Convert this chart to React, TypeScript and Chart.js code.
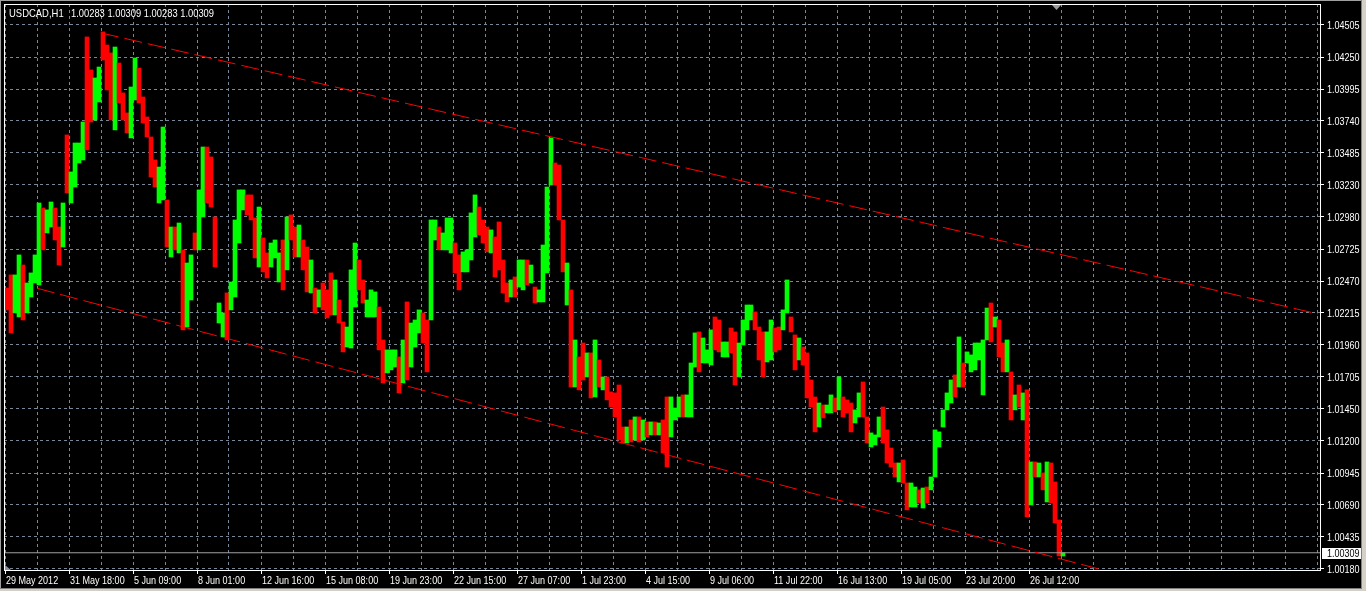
import React, { useEffect, useRef } from "react";
import { Chart, registerables } from "chart.js";

Chart.register(...registerables);

// ---------- data ----------
const chartSymbol = "USDCAD,H1";
const chartQuote = "1.00283 1.00309 1.00283 1.00309";

const timeLabels = [
  "29 May 2012", "31 May 18:00", "5 Jun 09:00", "8 Jun 01:00", "12 Jun 16:00",
  "15 Jun 08:00", "19 Jun 23:00", "22 Jun 15:00", "27 Jun 07:00", "1 Jul 23:00",
  "4 Jul 15:00", "9 Jul 06:00", "11 Jul 22:00", "16 Jul 13:00", "19 Jul 05:00",
  "23 Jul 20:00", "26 Jul 12:00",
];

// right-axis labels, bottom to top
const priceLabels = [
  "1.00180", "1.00435", "1.00690", "1.00945", "1.01200", "1.01450", "1.01705",
  "1.01960", "1.02215", "1.02470", "1.02725", "1.02980", "1.03230", "1.03485",
  "1.03740", "1.03995", "1.04250", "1.04505",
];

const currentPrice = 1.00309;
const currentPriceLabel = "1.00309";

// hourly bars grouped by 4 (one group = 4 H1 bars)
const hoursPerGroup = 4;

const groupLow = [
  1.02240, 1.02057, 1.02216, 1.02184, 1.02160, 1.02216, 1.02343, 1.02454, 1.02438, 1.02717,
  1.02852, 1.02899, 1.02796, 1.02597, 1.02740, 1.03170, 1.03090, 1.03217, 1.03408, 1.03432,
  1.03512, 1.03734, 1.03750, 1.03893, 1.04227, 1.03989, 1.03750, 1.03671, 1.03885, 1.03750,
  1.03647, 1.03607, 1.03909, 1.03885, 1.03726, 1.03615, 1.03297, 1.03217, 1.03090, 1.03114,
  1.02740, 1.02661, 1.02717, 1.02693, 1.02081, 1.02104, 1.02319, 1.02717, 1.02717, 1.02979,
  1.03090, 1.03058, 1.02581, 1.02136, 1.02025, 1.02001, 1.02240, 1.02343, 1.02772, 1.03035,
  1.02995, 1.02955, 1.02653, 1.02581, 1.02542, 1.02494, 1.02581, 1.02653, 1.02462, 1.02399,
  1.02558, 1.02796, 1.02661, 1.02661, 1.02558, 1.02383, 1.02375, 1.02216, 1.02263, 1.02240,
  1.02176, 1.02200, 1.02200, 1.02136, 1.01906, 1.01945, 1.01937, 1.02263, 1.02399, 1.02295,
  1.02184, 1.02184, 1.02184, 1.01922, 1.01659, 1.01739, 1.01763, 1.01786, 1.01580, 1.01659,
  1.01683, 1.01786, 1.01945, 1.02057, 1.01977, 1.01747, 1.02160, 1.02796, 1.02717, 1.02717,
  1.02717, 1.02693, 1.02534, 1.02399, 1.02542, 1.02542, 1.02637, 1.02820, 1.02836, 1.02772,
  1.02701, 1.02693, 1.02502, 1.02558, 1.02375, 1.02303, 1.02343, 1.02343, 1.02422, 1.02399,
  1.02438, 1.02454, 1.02295, 1.02303, 1.02303, 1.02534, 1.03233, 1.03233, 1.02955, 1.02542,
  1.02279, 1.01627, 1.01627, 1.01604, 1.01683, 1.01707, 1.01540, 1.01548, 1.01627, 1.01604,
  1.01524, 1.01468, 1.01389, 1.01206, 1.01182, 1.01182, 1.01190, 1.01206, 1.01190, 1.01206,
  1.01230, 1.01246, 1.01246, 1.01246, 1.01103, 1.00991, 1.01230, 1.01365, 1.01389, 1.01389,
  1.01389, 1.01389, 1.01786, 1.01747, 1.01818, 1.01818, 1.01802, 1.01922, 1.01906, 1.01866,
  1.01866, 1.01898, 1.01643, 1.01707, 1.01961, 1.02081, 1.02160, 1.02081, 1.01842, 1.01707,
  1.01826, 1.01842, 1.01906, 1.01922, 1.02081, 1.02216, 1.02065, 1.01763, 1.01842, 1.01802,
  1.01540, 1.01468, 1.01270, 1.01309, 1.01381, 1.01421, 1.01421, 1.01429, 1.01445, 1.01389,
  1.01421, 1.01270, 1.01341, 1.01389, 1.01389, 1.01182, 1.01150, 1.01166, 1.01230, 1.01182,
  1.01023, 1.00991, 1.00912, 1.00872, 1.00864, 1.00650, 1.00673, 1.00673, 1.00705, 1.00665,
  1.00705, 1.00809, 1.00912, 1.01150, 1.01309, 1.01445, 1.01500, 1.01548, 1.01627, 1.01627,
  1.01818, 1.01747, 1.01763, 1.01842, 1.01564, 1.02001, 1.01985, 1.02104, 1.01866, 1.01747,
  1.01747, 1.01365, 1.01445, 1.01468, 1.01365, 1.00594, 1.00689, 1.00912, 1.00912, 1.00809,
  1.00713, 1.00705, 1.00546, 1.00284, 1.00283,
];

const groupHigh = [
  1.02414, 1.02518, 1.02518, 1.02677, 1.02597, 1.02454, 1.02534, 1.02677, 1.03090, 1.03050,
  1.03035, 1.03098, 1.03050, 1.02899, 1.03090, 1.03631, 1.03337, 1.03567, 1.03567, 1.03734,
  1.04410, 1.04148, 1.04084, 1.04171, 1.04450, 1.04346, 1.04283, 1.04330, 1.04203, 1.03965,
  1.03806, 1.04012, 1.04243, 1.04163, 1.03933, 1.03774, 1.03615, 1.03432, 1.03376, 1.03694,
  1.03114, 1.02899, 1.02899, 1.02931, 1.02717, 1.02613, 1.02677, 1.02852, 1.03194, 1.03535,
  1.03535, 1.03456, 1.02979, 1.02295, 1.02216, 1.02375, 1.02462, 1.02955, 1.03194, 1.03194,
  1.03154, 1.03154, 1.02971, 1.03058, 1.02812, 1.02693, 1.02772, 1.02796, 1.02693, 1.02796,
  1.02979, 1.02995, 1.02899, 1.02915, 1.02796, 1.02740, 1.02637, 1.02414, 1.02399, 1.02454,
  1.02399, 1.02534, 1.02478, 1.02319, 1.02144, 1.02104, 1.02558, 1.02772, 1.02637, 1.02478,
  1.02319, 1.02399, 1.02383, 1.02263, 1.02001, 1.01922, 1.01922, 1.01922, 1.01866, 1.02001,
  1.02303, 1.02136, 1.02160, 1.02240, 1.02216, 1.02160, 1.02955, 1.02955, 1.02899, 1.02852,
  1.02971, 1.02971, 1.02772, 1.02677, 1.02701, 1.02717, 1.03011, 1.03154, 1.03058, 1.02955,
  1.02899, 1.02876, 1.02820, 1.02939, 1.02637, 1.02454, 1.02478, 1.02502, 1.02637, 1.02637,
  1.02637, 1.02597, 1.02422, 1.02399, 1.02756, 1.03217, 1.03607, 1.03408, 1.03392, 1.02955,
  1.02613, 1.02399, 1.02001, 1.01866, 1.01977, 1.01898, 1.01898, 1.02001, 1.01842, 1.01707,
  1.01707, 1.01588, 1.01580, 1.01643, 1.01309, 1.01309, 1.01365, 1.01389, 1.01389, 1.01365,
  1.01349, 1.01349, 1.01349, 1.01341, 1.01365, 1.01548, 1.01548, 1.01460, 1.01548, 1.01564,
  1.01564, 1.01818, 1.02057, 1.02065, 1.02017, 1.01922, 1.02081, 1.02184, 1.02160, 1.01985,
  1.01985, 1.02096, 1.02065, 1.01977, 1.02160, 1.02279, 1.02279, 1.02224, 1.02104, 1.02065,
  1.02065, 1.02160, 1.02096, 1.02104, 1.02240, 1.02478, 1.02184, 1.02041, 1.02017, 1.01945,
  1.01898, 1.01683, 1.01548, 1.01500, 1.01484, 1.01484, 1.01564, 1.01540, 1.01707, 1.01548,
  1.01524, 1.01500, 1.01445, 1.01580, 1.01667, 1.01389, 1.01262, 1.01246, 1.01389, 1.01468,
  1.01286, 1.01142, 1.01023, 1.01023, 1.01047, 1.00864, 1.00864, 1.00832, 1.00809, 1.00824,
  1.00832, 1.00912, 1.01286, 1.01270, 1.01445, 1.01580, 1.01683, 1.01723, 1.02025, 1.01818,
  1.01906, 1.01882, 1.01977, 1.01977, 1.02001, 1.02255, 1.02295, 1.02184, 1.02160, 1.01977,
  1.02001, 1.01747, 1.01564, 1.01643, 1.01580, 1.01604, 1.01031, 1.01031, 1.01023, 1.00944,
  1.01031, 1.01023, 1.00872, 1.00570, 1.00309,
];

// u = bullish (lime), d = bearish (red)
const groupDir = [
  "dduuduuuud", "uudduduuuu", "dduudddudd", "duuddddduu", "dududuuduu",
  "ddduuduuuu", "dddudduuud", "udduddudud", "ddudduuudd", "uuudduuudu",
  "duuudduudu", "uudduuuudd", "dudddduduu", "duduuuuddd", "ududdududu",
  "dddddududu", "dududduuud", "uuuduuuddu", "udduuuuddd", "uudduuddud",
  "ddduduudud", "dduudduuud", "dddudduudu", "duuuuuudud", "uuuuuududd",
  "ududududud", "udddu",
].join("").split("");

// trend lines (bar index in hours, price)
const upperTrendX = [96, 1313];
const upperTrendY = [1.04442, 1.02208];
const lowerTrendX = [32, 1101];
const lowerTrendY = [1.02412, 1.00165];

// ---------- layout constants ----------
const W = 1366;
const H = 591;
const X_MIN = -1;
const X_MAX = 1315;
const GRID_STEP = 32; // hours between vertical grid lines
const FONT_FAMILY = "'Liberation Sans', Arial, sans-serif";
const FONT = `11px ${FONT_FAMILY}`;
const NARROW = 0.82; // horizontal squeeze to mimic the narrow terminal font
const GRID_COLOR = "#778899";

function narrowText(ctx: CanvasRenderingContext2D, text: string, x: number, y: number, sx = NARROW) {
  ctx.save();
  ctx.translate(x, y);
  ctx.scale(sx, 1);
  ctx.fillText(text, 0, 0);
  ctx.restore();
}

const overlayPlugin = {
  id: "mt4overlay",
  afterDraw(chart: any) {
    const ctx = chart.ctx as CanvasRenderingContext2D;
    const area = chart.chartArea;
    const xScale = chart.scales.x;
    const yScale = chart.scales.y;
    ctx.save();

    // chart frame
    ctx.strokeStyle = "#ffffff";
    ctx.lineWidth = 1;
    ctx.strokeRect(area.left + 0.5, area.top + 0.5, area.right - area.left, area.bottom - area.top);

    ctx.font = FONT;
    ctx.fillStyle = "#ffffff";
    ctx.textAlign = "left";

    // title
    ctx.textBaseline = "alphabetic";
    narrowText(ctx, chartSymbol, 9, 17, 0.86);
    narrowText(ctx, chartQuote, 71, 17, 0.85);

    // price axis labels
    ctx.textBaseline = "middle";
    yScale.ticks.forEach((t: any, i: number) => {
      const py = Math.round(yScale.getPixelForValue(t.value));
      narrowText(ctx, priceLabels[i], area.right + 7, py + 0.5);
    });

    // time axis labels
    xScale.ticks.forEach((t: any, i: number) => {
      if (i % 2 !== 0) return;
      const label = timeLabels[i / 2];
      if (!label) return;
      const px = Math.round(xScale.getPixelForValue(t.value));
      narrowText(ctx, label, px + 1, 580.5);
    });

    // current price label
    const py = Math.round(yScale.getPixelForValue(currentPrice));
    ctx.fillStyle = "#ffffff";
    ctx.fillRect(area.right + 2, py - 5, 39, 11);
    ctx.fillStyle = "#000000";
    narrowText(ctx, currentPriceLabel, area.right + 7, py + 0.5);

    // shift marker and scale marker
    ctx.fillStyle = "#9a9a9a";
    ctx.beginPath();
    ctx.moveTo(1052, area.top + 1);
    ctx.lineTo(1061, area.top + 1);
    ctx.lineTo(1056.5, area.top + 6);
    ctx.closePath();
    ctx.fill();
    ctx.fillStyle = "#8a94a0";
    ctx.beginPath();
    ctx.moveTo(area.left + 1, area.bottom - 5);
    ctx.lineTo(area.left + 1, area.bottom);
    ctx.lineTo(area.left + 7, area.bottom);
    ctx.closePath();
    ctx.fill();

    // window frame
    ctx.fillStyle = "#d4d0c8";
    ctx.fillRect(W - 5, 0, 5, H);
    ctx.fillRect(0, H - 2, W, 2);
    ctx.fillStyle = "#808080";
    ctx.fillRect(W - 5, 0, 1, H - 2);
    ctx.fillRect(0, H - 3, W - 5, 1);
    ctx.fillStyle = "#a0a0a0";
    ctx.fillRect(0, 0, W - 5, 1);
    ctx.fillRect(0, 0, 1, H - 3);
    ctx.restore();
  },
};

export default function App() {
  const canvasRef = useRef<HTMLCanvasElement>(null);

  useEffect(() => {
    document.body.style.margin = "0";
    document.body.style.background = "#000";
    const canvas = canvasRef.current;
    if (!canvas) return;

    const bars = groupLow.map((lo, i) => ({
      x: i * hoursPerGroup + hoursPerGroup / 2,
      y: [lo, groupHigh[i]],
    }));
    const barColors = groupDir.map((d) => (d === "u" ? "#00ff00" : "#ff0000"));

    const yLo = Number(priceLabels[0]);
    const yHi = Number(priceLabels[priceLabels.length - 1]);
    const yStep = (yHi - yLo) / (priceLabels.length - 1);
    const pxPerPrice = 32 / yStep;
    const yMax = yHi + 21 / pxPerPrice;
    const yMin = yLo - 1 / pxPerPrice;

    const nGrid = Math.floor(X_MAX / GRID_STEP);

    const chart = new Chart(canvas, {
      type: "bar",
      data: {
        datasets: [
          {
            type: "line",
            data: upperTrendX.map((x, i) => ({ x, y: upperTrendY[i] })),
            borderColor: "#ff0000",
            borderWidth: 1,
            borderDash: [18, 6],
            pointRadius: 0,
            order: 0,
          } as any,
          {
            type: "line",
            data: lowerTrendX.map((x, i) => ({ x, y: lowerTrendY[i] })),
            borderColor: "#ff0000",
            borderWidth: 1,
            borderDash: [18, 6],
            pointRadius: 0,
            order: 0,
          } as any,
          {
            type: "line",
            data: [
              { x: X_MIN, y: currentPrice },
              { x: X_MAX, y: currentPrice },
            ],
            borderColor: "#a0a0a4",
            borderWidth: 1,
            pointRadius: 0,
            order: 1,
          } as any,
          {
            type: "bar",
            data: bars,
            backgroundColor: barColors,
            borderWidth: 0,
            barPercentage: 1,
            categoryPercentage: 1,
            order: 2,
          } as any,
        ],
      },
      options: {
        responsive: false,
        animation: false,
        events: [],
        layout: { padding: { left: 4, top: 4, right: 0, bottom: 0 } },
        plugins: {
          legend: { display: false },
          tooltip: { enabled: false },
          title: { display: false },
        },
        scales: {
          x: {
            type: "linear",
            position: "bottom",
            min: X_MIN,
            max: X_MAX,
            offset: false,
            afterBuildTicks: (s: any) => {
              const t = [];
              for (let k = 0; k <= nGrid; k++) t.push({ value: k * GRID_STEP });
              s.ticks = t;
            },
            afterFit: (s: any) => {
              s.height = H - 570;
              s.paddingLeft = 0;
              s.paddingRight = 0;
            },
            grid: {
              color: GRID_COLOR,
              offset: false,
              tickLength: 4,
              tickColor: (ctx: any) =>
                ctx.index % 2 === 0 && ctx.index / 2 < timeLabels.length ? "#ffffff" : "rgba(0,0,0,0)",
            },
            border: { display: false, dash: [3, 3] },
            ticks: { display: false, autoSkip: false },
          },
          y: {
            type: "linear",
            position: "right",
            min: yMin,
            max: yMax,
            afterBuildTicks: (s: any) => {
              s.ticks = priceLabels.map((_l, k) => ({ value: yLo + k * yStep }));
            },
            afterFit: (s: any) => {
              s.width = W - 1320;
              s.paddingTop = 0;
              s.paddingBottom = 0;
            },
            grid: {
              color: GRID_COLOR,
              tickLength: 4,
              tickColor: "#ffffff",
            },
            border: { display: false, dash: [3, 3] },
            ticks: { display: false, autoSkip: false },
          },
        },
      } as any,
      plugins: [overlayPlugin],
    });

    return () => chart.destroy();
  }, []);

  return (
    <div style={{ position: "fixed", left: 0, top: 0, width: W, height: H, background: "#000" }}>
      <canvas ref={canvasRef} width={W} height={H} style={{ display: "block", width: W, height: H }} />
    </div>
  );
}
